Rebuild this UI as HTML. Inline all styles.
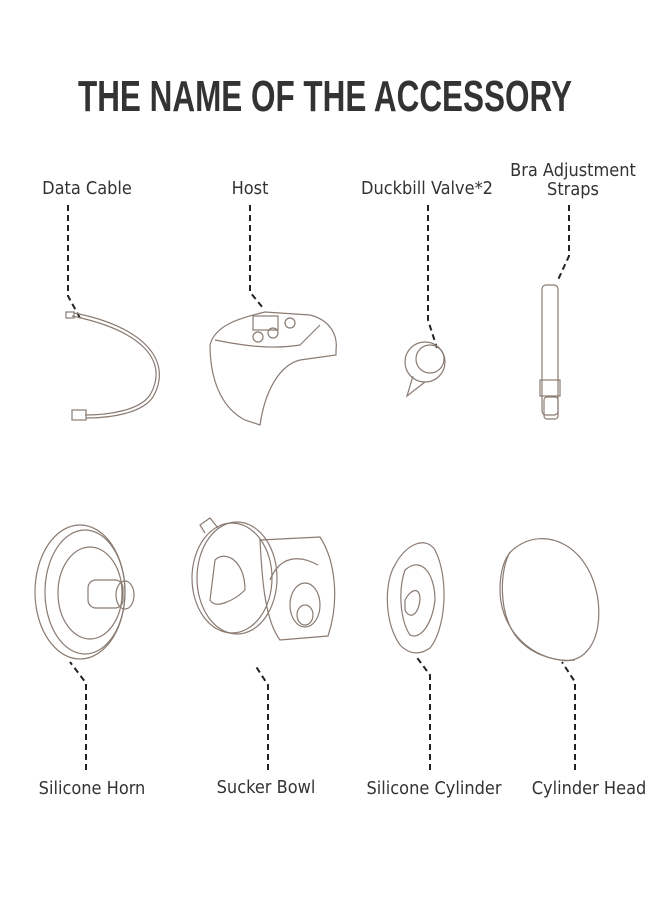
<!DOCTYPE html>
<html><head><meta charset="utf-8"><style>
html,body{margin:0;padding:0;background:#fff}
svg{display:block}
.l{font-family:"DejaVu Sans Condensed","Liberation Sans Narrow","Liberation Sans",sans-serif;font-size:18px;fill:#333}
.d{stroke:#222;stroke-width:2;stroke-dasharray:6 4;fill:none}
.o{stroke:#8a7b72;stroke-width:1.2;fill:none}
</style></head><body>
<svg width="660" height="900" viewBox="0 0 660 900">
<text x="325" y="111" text-anchor="middle" textLength="494" lengthAdjust="spacingAndGlyphs" style="font-family:'Liberation Sans Narrow','Liberation Sans',sans-serif;font-weight:bold;font-size:44px;fill:#333">THE NAME OF THE ACCESSORY</text>

<g class="l" text-anchor="middle">
<text x="87" y="194">Data Cable</text>
<text x="250" y="194">Host</text>
<text x="427" y="194">Duckbill Valve*2</text>
<text x="573" y="176">Bra Adjustment</text>
<text x="573" y="195">Straps</text>
<text x="92" y="794">Silicone Horn</text>
<text x="266" y="793">Sucker Bowl</text>
<text x="434" y="794">Silicone Cylinder</text>
<text x="589" y="794">Cylinder Head</text>
</g>

<path class="d" d="M68 205V296L80 318"/>
<path class="d" d="M250 205V292L263 308"/>
<path class="d" d="M428 205V320L437 348"/>
<path class="d" d="M569 205V256L557 282"/>
<path class="d" d="M86 770V683L70 662"/>
<path class="d" d="M268 770V685L255 665"/>
<path class="d" d="M430 770V675L415 655"/>
<path class="d" d="M575 770V682L562 662"/>

<!-- cable -->
<path class="o" d="M72 316C140 330 170 360 150 395C140 410 110 415 85 415"/>
<path class="o" d="M74 313C142 326 174 360 153 397C142 413 112 418 86 418"/>
<rect class="o" x="66" y="312" width="8" height="6"/>
<rect class="o" x="72" y="410" width="14" height="10"/>
<!-- host -->
<path class="o" d="M210 345C215 325 240 318 265 312L310 315C330 320 338 335 336 350L336 355L300 360C280 365 265 390 260 425L245 420C225 410 210 385 210 345Z"/>
<path class="o" d="M215 340C240 345 270 350 300 345L320 325"/>
<rect class="o" x="253" y="316" width="25" height="14"/>
<circle class="o" cx="258" cy="337" r="5"/><circle class="o" cx="273" cy="333" r="5"/><circle class="o" cx="290" cy="323" r="5"/>
<!-- duckbill -->
<ellipse class="o" cx="425" cy="362" rx="20" ry="20"/>
<ellipse class="o" cx="430" cy="359" rx="14" ry="14"/>
<path class="o" d="M413 376L407 396L425 382"/>
<!-- strap -->
<rect class="o" x="542" y="285" width="16" height="130" rx="4"/>
<rect class="o" x="540" y="380" width="20" height="16"/>
<rect class="o" x="544" y="397" width="14" height="22" rx="3"/>
<!-- silicone horn -->
<ellipse class="o" cx="80" cy="592" rx="45" ry="67"/>
<ellipse class="o" cx="85" cy="592" rx="40" ry="62"/>
<ellipse class="o" cx="90" cy="593" rx="32" ry="46"/>
<rect class="o" x="88" y="580" width="35" height="28" rx="8"/>
<ellipse class="o" cx="125" cy="595" rx="9" ry="14"/>
<!-- sucker bowl -->
<ellipse class="o" cx="232" cy="578" rx="40" ry="55"/>
<ellipse class="o" cx="237" cy="578" rx="40" ry="56"/>
<path class="o" d="M205 533L200 525L210 518L218 528"/>
<path class="o" d="M260 540L320 537C335 560 340 600 328 636L280 640C265 620 262 580 260 540Z"/>
<path class="o" d="M270 580C280 555 300 555 318 565"/>
<ellipse class="o" cx="305" cy="605" rx="15" ry="22"/>
<ellipse class="o" cx="305" cy="615" rx="8" ry="10"/>
<path class="o" d="M215 560C225 550 245 560 245 590C235 600 215 610 210 600Z"/>
<!-- silicone cylinder -->
<path class="o" d="M395 565C385 580 383 620 400 645C410 655 420 655 430 648C445 630 450 580 435 550C425 535 405 545 395 565Z"/>
<path class="o" d="M405 570C398 590 400 620 410 635C420 640 432 625 435 600C435 575 422 555 405 570Z"/>
<path class="o" d="M405 600C410 590 420 585 420 600C418 615 410 620 405 610Z"/>
<!-- cylinder head -->
<path class="o" d="M515 548C545 525 590 545 598 600C603 640 585 665 560 660C525 655 500 625 500 590C500 570 505 555 515 548Z"/>
<path class="o" d="M510 552C500 570 498 610 515 635C530 655 555 662 575 660"/>
</svg>
</body></html>
